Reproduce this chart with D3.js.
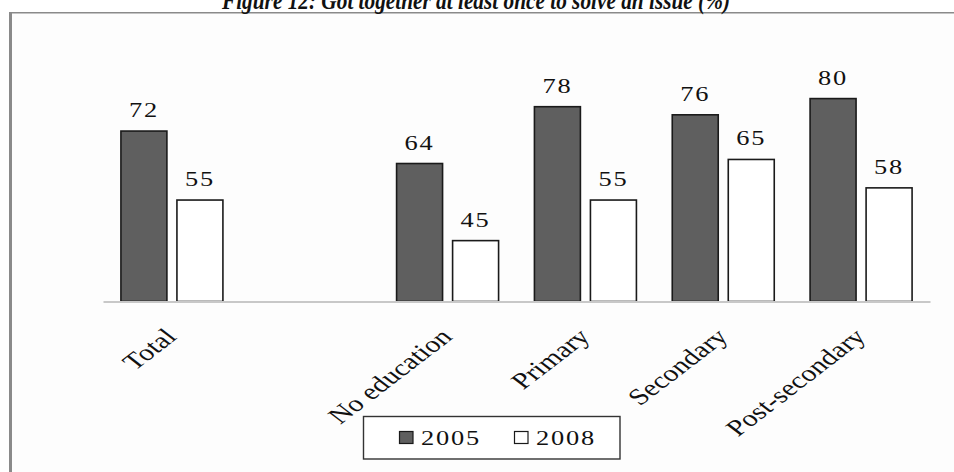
<!DOCTYPE html>
<html>
<head>
<meta charset="utf-8">
<script src="https://cdn.jsdelivr.net/npm/d3@7"></script>
<style>
  html, body { margin: 0; padding: 0; background: #ffffff; }
  svg { display: block; }
  text { font-family: "Liberation Serif", "Times New Roman", Times, serif; fill: #111; }
</style>
</head>
<body>
<svg id="chart" width="954" height="472"></svg>
<script>
// Categories (a blank slot separates the total from the education groups)
const categories = ["Total", " ", "No education", "Primary", "Secondary", "Post-secondary"];
const seriesNames = ["2005", "2008"];
const values2005 = [72, null, 64, 78, 76, 80];
const values2008 = [55, null, 45, 55, 65, 58];
const yDomain = [30, 90];
const titleText = "Figure 12: Got together at least once to solve an issue (%)";

const seriesValues = { "2005": values2005, "2008": values2008 };
const fills = { "2005": "#5f5f5f", "2008": "#ffffff" };

const svg = d3.select("#chart");
const W = 954, H = 472;

// Frame of the chart area
svg.append("rect").attr("x", 11).attr("y", 13).attr("width", W - 11).attr("height", H - 13)
  .attr("fill", "#fdfdfd");
svg.append("line").attr("x1", 9).attr("x2", W).attr("y1", 12.8).attr("y2", 12.8)
  .attr("stroke", "#8a8a8a").attr("stroke-width", 1.6);
svg.append("line").attr("x1", 10.5).attr("x2", 10.5).attr("y1", 12).attr("y2", H)
  .attr("stroke", "#8a8a8a").attr("stroke-width", 3);

// Title (sits partly above the page edge)
svg.append("text")
  .attr("x", 476).attr("y", 9)
  .attr("text-anchor", "middle")
  .attr("textLength", 508).attr("lengthAdjust", "spacingAndGlyphs")
  .style("font-size", "25px").style("font-weight", "bold").style("font-style", "italic")
  .text(titleText);

// Scales
const x0 = d3.scaleBand().domain(categories).range([103, 930])
  .paddingInner(0.26).paddingOuter(0.13);
const x1 = d3.scaleBand().domain(seriesNames).range([0, x0.bandwidth()])
  .paddingInner(0.179).paddingOuter(0);
const y = d3.scaleLinear().domain(yDomain).range([301.5, 58]);

// Bars
const barData = [];
categories.forEach((c, i) => {
  seriesNames.forEach(s => {
    const v = seriesValues[s][i];
    if (v != null) barData.push({ cat: c, series: s, value: v });
  });
});

const g = svg.append("g");
g.selectAll("rect.bar").data(barData).join("rect")
  .attr("class", "bar")
  .attr("x", d => x0(d.cat) + x1(d.series))
  .attr("y", d => y(d.value))
  .attr("width", x1.bandwidth())
  .attr("height", d => y(yDomain[0]) - y(d.value))
  .attr("fill", d => fills[d.series])
  .attr("stroke", "#1a1a1a").attr("stroke-width", 1.6);

// Category axis line
const axisG = svg.append("g").attr("transform", `translate(0,${y(yDomain[0])})`)
  .call(d3.axisBottom(x0).tickSize(0).tickFormat(""));
axisG.select(".domain").attr("stroke", "#c8c8c8").attr("stroke-width", 2.2);

// Value labels
g.selectAll("text.val").data(barData).join("text")
  .attr("class", "val")
  .attr("transform", d => `translate(${x0(d.cat) + x1(d.series) + x1.bandwidth() / 2},${y(d.value) - 14}) scale(1.2,1)`)
  .attr("text-anchor", "middle")
  .style("font-size", "22px").style("letter-spacing", "1.5px")
  .text(d => d.value);

// Rotated category labels
svg.selectAll("text.cat").data(categories.filter(c => c.trim() !== "")).join("text")
  .attr("class", "cat")
  .attr("transform", c => `translate(${x0(c) + x0.bandwidth() / 2 + 6},${338}) scale(1.3,1) rotate(-45)`)
  .attr("text-anchor", "end")
  .style("font-size", "23px")
  .text(c => c);

// Legend
const leg = svg.append("g");
leg.append("rect").attr("x", 363.5).attr("y", 416.5).attr("width", 256.5).attr("height", 42.5)
  .attr("fill", "#ffffff").attr("stroke", "#333").attr("stroke-width", 1.4);
const legX = { "2005": 399.5, "2008": 514.5 };
seriesNames.forEach(s => {
  leg.append("rect").attr("x", legX[s]).attr("y", 431.5).attr("width", 13.5).attr("height", 12)
    .attr("fill", fills[s]).attr("stroke", "#1a1a1a").attr("stroke-width", 1.2);
  leg.append("text")
    .attr("transform", `translate(${legX[s] + 21.5},${444.5}) scale(1.2,1)`)
    .style("font-size", "22px").style("letter-spacing", "1.5px")
    .text(s);
});
</script>
</body>
</html>
